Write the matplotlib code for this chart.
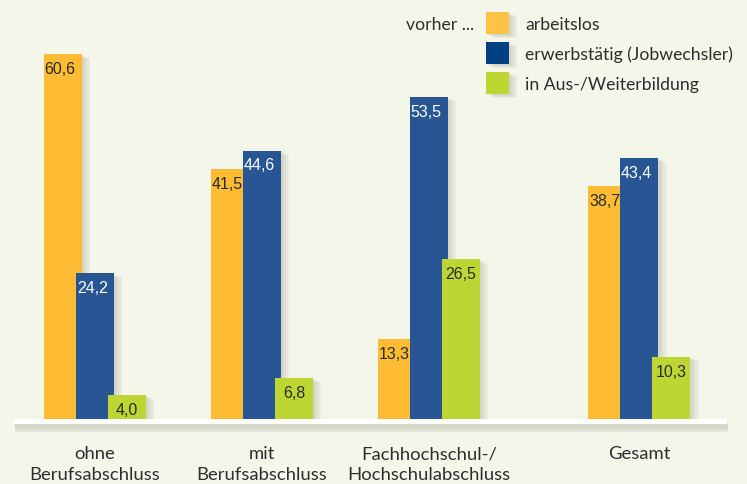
import numpy as np
import matplotlib.pyplot as plt
import matplotlib.patheffects as pe
from matplotlib.patches import Rectangle

# Daten
kategorien = ['ohne\nBerufsabschluss', 'mit\nBerufsabschluss',
              'Fachhochschul-/\nHochschulabschluss', 'Gesamt']
arbeitslos = [60.6, 41.5, 13.3, 38.7]
erwerbstaetig = [24.2, 44.6, 53.5, 43.4]
ausbildung = [4.0, 6.8, 26.5, 10.3]
serien_namen = ['arbeitslos', 'erwerbstätig (Jobwechsler)', 'in Aus-/Weiterbildung']

bg = '#f4f6e9'
farben = ['#fdbc33', '#285593', '#bdd633']
legend_farben = ['#fdc247', '#003f80', '#bdd631']
txt_farben = ['#2b2b2b', 'white', '#2b2b2b']
textcol = '#2e2e2e'

W, H = 747, 485
fig = plt.figure(figsize=(W / 100, H / 100), dpi=100, facecolor=bg)
ax = fig.add_axes([0, 65 / H, 1, 420 / H])
ax.set_facecolor(bg)
ax.set_xlim(-0.569, 3.904)
ax.set_ylim(0, 420 / 6.02)
ax.axis('off')

pos = np.array([0, 1, 2, 3.26])
breite = 38 / 167
schritt = 32 / 167


# weicher Schatten aus mehreren Lagen
def weich(dx, dy, n=5, a=0.07):
    eff = [pe.SimplePatchShadow(offset=(dx * k / n, dy * k / n), shadow_rgbFace='#8c8c7c', alpha=a)
           for k in range(n, 0, -1)]
    return eff + [pe.Normal()]


schatten = weich(6, -3)

# Grundlinie mit Schatten
basis = Rectangle((-0.485, -5 / 6.02), 4.269, 5 / 6.02, facecolor='white', edgecolor='none',
                  clip_on=False, zorder=1)
basis.set_path_effects(weich(1, -6, n=5, a=0.1))
ax.add_patch(basis)

for i, werte in enumerate([arbeitslos, erwerbstaetig, ausbildung]):
    xs = pos + (i - 1) * schritt
    bars = ax.bar(xs, werte, width=breite, color=farben[i], zorder=2 + i)
    for b in bars:
        b.set_path_effects(schatten)
    dx = -2 if i < 2 else 0
    for x, v in zip(xs, werte):
        ax.annotate(f'{v:.1f}'.replace('.', ','), (x, v), xytext=(dx, -5),
                    textcoords='offset points', ha='center', va='top',
                    fontsize=11.5, family='Liberation Sans', color=txt_farben[i], zorder=10)

for x, k in zip(pos, kategorien):
    ax.annotate(k, (x, 0), xytext=(0, -19), textcoords='offset points',
                ha='center', va='top', fontsize=13.3, family='Lato',
                color=textcol, linespacing=1.35, annotation_clip=False)

# Legende
fig.text(406 / W, 1 - 25 / H, 'vorher ...', ha='left', va='center',
         fontsize=12.7, family='Lato', color=textcol)
for i, name in enumerate(serien_namen):
    ytop = 13 + 30 * i
    r = Rectangle((486 / W, 1 - (ytop + 22) / H), 23 / W, 22 / H, transform=fig.transFigure,
                  facecolor=legend_farben[i], edgecolor='none')
    r.set_path_effects(schatten)
    fig.patches.append(r)
    fig.text(525 / W, 1 - (ytop + 12) / H, name, ha='left', va='center',
             fontsize=12.7, family='Lato', color=textcol)

fig.savefig('out.png', dpi=100, facecolor=bg)
